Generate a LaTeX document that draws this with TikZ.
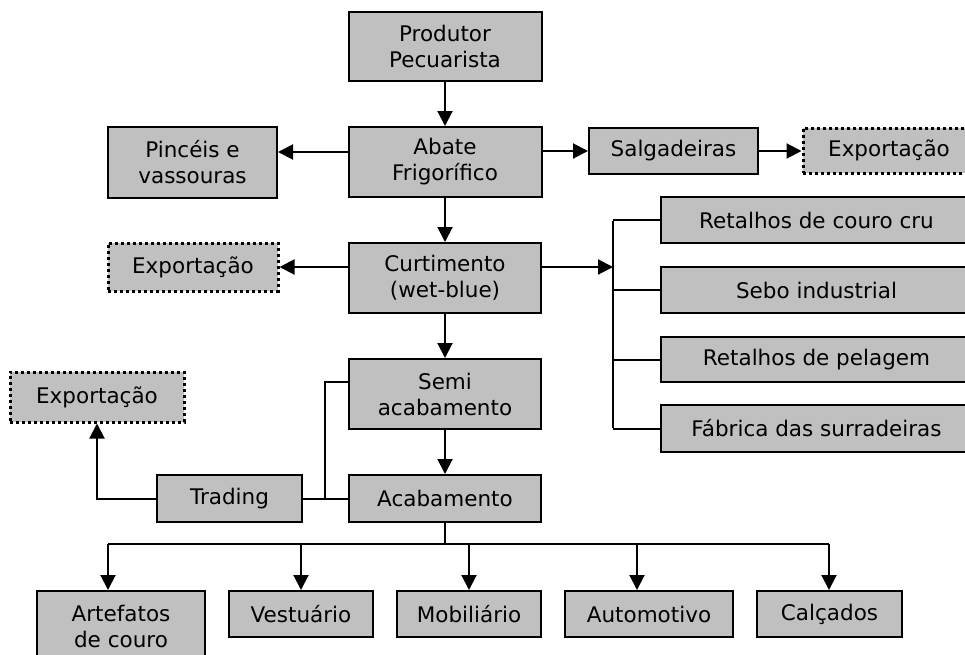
\documentclass[tikz,border=0pt]{standalone}
\usepackage{fontspec}
\setmainfont{DejaVu Sans}
\usetikzlibrary{arrows.meta}
\definecolor{boxgray}{HTML}{C0C0C0}
\begin{document}
\begin{tikzpicture}[x=1pt,y=-1pt,
  box/.style={draw=black, line width=2pt, fill=boxgray, inner sep=0pt, align=center,
    font=\fontsize{21.5}{26}\selectfont},
  dotbox/.style={box, line width=3pt, dash pattern=on 3pt off 3pt},
  conn/.style={line width=2pt},
  arr/.style={conn, -{Triangle[length=15pt,width=15pt]}}]
\useasboundingbox (0,0) rectangle (965,654);

% nodes
\node[box, minimum width=193, minimum height=69] (prod) at (445,46.5) {Produtor\\Pecuarista};
\node[box, minimum width=193, minimum height=70] (abate) at (445,162) {Abate\\Frigorífico};
\node[box, minimum width=169, minimum height=71] (pinc) at (192.5,162.5) {Pincéis e\\vassouras};
\node[box, minimum width=169, minimum height=46] (salg) at (673.5,151) {Salgadeiras};
\node[dotbox, minimum width=172, minimum height=45] (expR) at (889,150.5) {Exportação};
\node[dotbox, minimum width=170, minimum height=48] (expA) at (193,267) {Exportação};
\node[box, minimum width=192, minimum height=70] (curt) at (445,278) {Curtimento\\(wet-blue)};
\node[box, minimum width=311, minimum height=46] (r1) at (816.5,220) {Retalhos de couro cru};
\node[box, minimum width=311, minimum height=46] (r2) at (816.5,290) {Sebo industrial};
\node[box, minimum width=311, minimum height=45] (r3) at (816.5,359.5) {Retalhos de pelagem};
\node[box, minimum width=311, minimum height=47] (r4) at (816.5,428.5) {Fábrica das surradeiras};
\node[box, minimum width=192, minimum height=70] (semi) at (445,394) {Semi\\acabamento};
\node[box, minimum width=192, minimum height=47] (acab) at (445,498.5) {Acabamento};
\node[box, minimum width=145, minimum height=47] (trad) at (229.5,498.5) {Trading};
\node[dotbox, minimum width=174, minimum height=50] (expB) at (97,397) {Exportação};
\node[box, minimum width=168, minimum height=70] (art) at (121,626) {Artefatos\\de couro};
\node[box, minimum width=144, minimum height=46] (vest) at (301,614) {Vestuário};
\node[box, minimum width=144, minimum height=46] (mob) at (469,614) {Mobiliário};
\node[box, minimum width=168, minimum height=46] (auto) at (649,614) {Automotivo};
\node[box, minimum width=145, minimum height=46] (calc) at (829.5,614) {Calçados};

% helper coordinates
\coordinate (ap) at ([yshift=10pt]abate.west);
\coordinate (bt) at (613,221);
\coordinate (bb) at (613,428);
\coordinate (jn) at (325,498.5);
\coordinate (hub) at (445,544);
\coordinate (h1) at (108,544);
\coordinate (h2) at (301,544);
\coordinate (h3) at (469,544);
\coordinate (h4) at (637,544);
\coordinate (h5) at (829,544);

% connectors
\draw[arr] (prod.south) -- (abate.north);
\draw[arr] (ap) -- (ap -| pinc.east);
\draw[arr] (salg.west -| abate.east) -- (salg.west);
\draw[arr] (salg.east) -- (salg.east -| expR.west);
\draw[arr] (abate.south) -- (curt.north);
\draw[arr] (expA.east -| curt.west) -- (expA.east);
\draw[arr] (expA.east -| curt.east) -- (expA.east -| bt);
\draw[conn] (bt) -- (bb);
\draw[conn] (r1.west -| bt) -- (r1.west);
\draw[conn] (r2.west -| bt) -- (r2.west);
\draw[conn] (r3.west -| bt) -- (r3.west);
\draw[conn] (r4.west -| bt) -- (r4.west);
\draw[arr] (curt.south) -- (semi.north);
\draw[arr] (semi.south) -- (acab.north);
\draw[conn] ([yshift=12pt]semi.west) -| (jn);
\draw[conn] (trad.east) -- (acab.west);
\draw[arr] (trad.west) -| (expB.south);
\draw[conn] (acab.south) -- (hub);
\draw[conn] (h1) -- (h5);
\draw[arr] (h1) -- (h1 |- art.north);
\draw[arr] (h2) -- (h2 |- vest.north);
\draw[arr] (h3) -- (h3 |- mob.north);
\draw[arr] (h4) -- (h4 |- auto.north);
\draw[arr] (h5) -- (h5 |- calc.north);
\end{tikzpicture}
\end{document}
